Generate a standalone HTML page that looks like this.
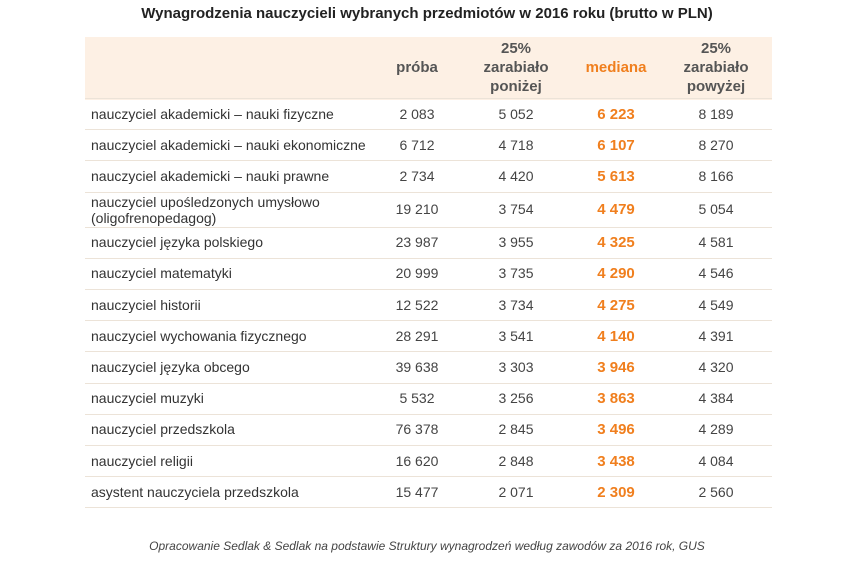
<!DOCTYPE html>
<html><head><meta charset="utf-8"><style>
body{margin:0;width:854px;height:562px;background:#fff;font-family:"Liberation Sans",sans-serif;position:relative;overflow:hidden;color:#333}
.a{position:absolute;white-space:nowrap}
.t{left:0;width:854px;text-align:center;top:5px;font-size:15px;font-weight:bold;color:#222}
.h{font-size:15px;font-weight:bold;color:#555;text-align:center;width:100px;line-height:19px}
.c{font-size:14px;text-align:center;width:100px;color:#444}
.m{color:#f07f1e;font-weight:bold;font-size:15px}
.l{font-size:14px;left:91px;color:#333;line-height:16px}
.ln{position:absolute;left:85px;width:687px;height:1px;background:#ece3d8}
.f{left:0;width:854px;text-align:center;top:539px;font-size:12px;font-style:italic;color:#444}
</style></head><body>
<div class="a t">Wynagrodzenia nauczycieli wybranych przedmiotów w 2016 roku (brutto w PLN)</div>
<div class="a" style="left:85px;top:37px;width:687px;height:63px;background:#fdf0e4"></div>
<div class="a h" style="left:367px;top:58px">próba</div>
<div class="a h" style="left:466px;top:39px">25%<br>zarabiało<br>poniżej</div>
<div class="a h" style="left:566px;top:58px;color:#f07f1e">mediana</div>
<div class="a h" style="left:666px;top:39px">25%<br>zarabiało<br>powyżej</div>
<div id="tbl"></div>
<div class="a f">Opracowanie Sedlak &amp; Sedlak na podstawie Struktury wynagrodzeń według zawodów za 2016 rok, GUS</div>
<script>
const labels=["nauczyciel akademicki – nauki fizyczne","nauczyciel akademicki – nauki ekonomiczne","nauczyciel akademicki – nauki prawne","nauczyciel upośledzonych umysłowo<br>(oligofrenopedagog)","nauczyciel języka polskiego","nauczyciel matematyki","nauczyciel historii","nauczyciel wychowania fizycznego","nauczyciel języka obcego","nauczyciel muzyki","nauczyciel przedszkola","nauczyciel religii","asystent nauczyciela przedszkola"];
const proba=["2 083","6 712","2 734","19 210","23 987","20 999","12 522","28 291","39 638","5 532","76 378","16 620","15 477"];
const below=["5 052","4 718","4 420","3 754","3 955","3 735","3 734","3 541","3 303","3 256","2 845","2 848","2 071"];
const median=["6 223","6 107","5 613","4 479","4 325","4 290","4 275","4 140","3 946","3 863","3 496","3 438","2 309"];
const above=["8 189","8 270","8 166","5 054","4 581","4 546","4 549","4 391","4 320","4 384","4 289","4 084","2 560"];
const tbl=document.getElementById('tbl');
let y=98;
function add(cls,txt,x,top,name){const d=document.createElement('div');d.className='a '+cls;d.innerHTML=txt;if(x!==null)d.style.left=x+'px';d.style.top=top+'px';


tbl.appendChild(d);return d;}
const l0=document.createElement('div');l0.className='ln';l0.style.top=y+'px';


tbl.appendChild(l0);
for(let i=0;i<labels.length;i++){
 const h=labels[i].includes('<br>')?35:31.2;
 const cy=y+h/2;
 add('l',labels[i],null,labels[i].includes('<br>')?cy-15:cy-8,'row-label');
 add('c',proba[i],367,cy-8,'cell-proba');
 add('c',below[i],466,cy-8,'cell-below');
 add('c m',median[i],566,cy-8,'cell-median');
 add('c',above[i],666,cy-8,'cell-above');
 y+=h;
 const ln=document.createElement('div');ln.className='ln';ln.style.top=Math.round(y)+'px';
 
 
 tbl.appendChild(ln);
}
</script>
</body></html>
